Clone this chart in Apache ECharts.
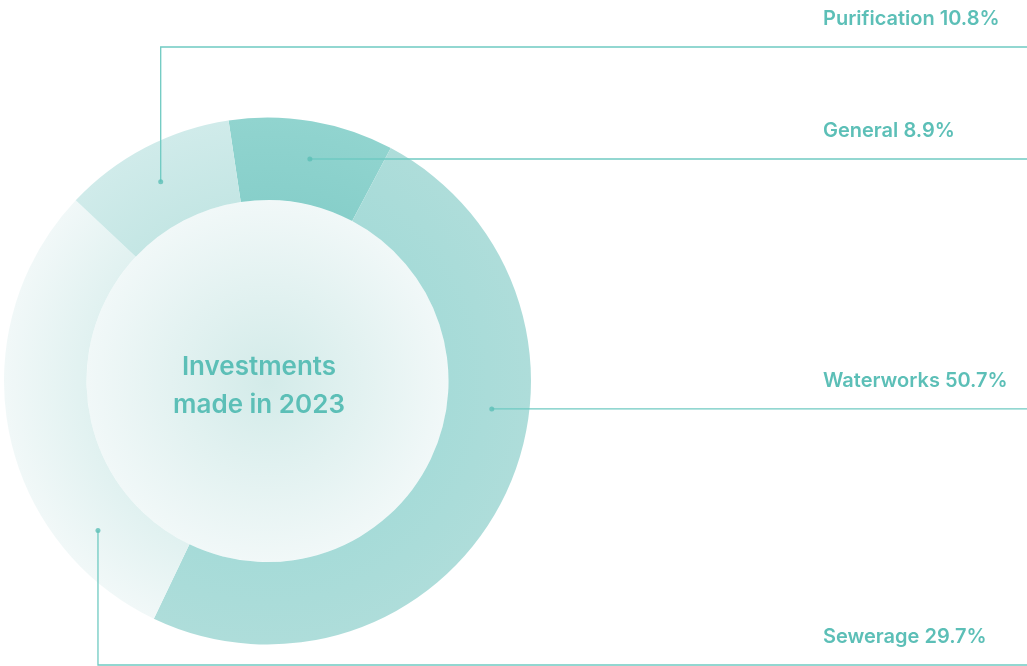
<!DOCTYPE html>
<html>
<head>
<meta charset="utf-8">
<script src="https://cdn.jsdelivr.net/npm/echarts@6/dist/echarts.min.js"></script>
<style>
  html, body { margin: 0; padding: 0; background: #fff; }
  #main { width: 1027px; height: 666px; }
</style>
</head>
<body>
<div id="main"></div>
<script>
// data (clockwise from the top)
const names = ['General', 'Waterworks', 'Sewerage', 'Purification'];
const percents = [8.9, 50.7, 29.7, 10.8];        // as printed in the labels
const sliceShares = [10.1, 49.3, 29.9, 10.6];     // slice sizes as drawn in the picture
const centerTitle = 'Investments\nmade in 2023';

// where each label marker sits on the ring (degrees clockwise from 12 o'clock)
const dotAngles = [10.8, 97.1, 228.6, 331.8];
// y of each leader line
const lineYs = [159, 409, 665, 47];

const cx = 267.5, cy = 381, rIn = 181, rOut = 263.5, rDot = 226;
const teal = '#5cbfb7';
const font = 'Inter';

function ringGrad(inner, outer) {
  return {
    type: 'radial', x: cx, y: cy, r: rOut, global: true,
    colorStops: [{ offset: 0.68, color: inner }, { offset: 1, color: outer }]
  };
}
const fills = [
  ringGrad('#87cfca', '#91d4cf'),
  ringGrad('#a6dbd8', '#aeddda'),
  ringGrad('#e0f1f0', '#f1f8f8'),
  ringGrad('#c4e6e4', '#d0ebea')
];

function dotXY(i) {
  const a = dotAngles[i] * Math.PI / 180;
  return [cx + rDot * Math.sin(a), cy - rDot * Math.cos(a)];
}

let myChart = echarts.init(document.getElementById('main'));
const W = myChart.getWidth();

const ringData = names.map((n, i) => ({ name: n, value: sliceShares[i] }));

let option = {
  animation: false,
  title: {
    text: centerTitle,
    left: 259,
    top: 348,
    textAlign: 'center',
    padding: 0,
    z: 10,
    textStyle: {
      color: teal,
      fontFamily: font,
      fontSize: 26,
      fontWeight: 600,
      lineHeight: 38
    }
  },
  polar: { center: [cx, cy], radius: rOut },
  angleAxis: { min: 0, max: 360, startAngle: 90, clockwise: true, show: false },
  radiusAxis: { min: 0, max: rOut, show: false },
  series: [
    {
      // inner disc
      type: 'pie',
      center: [cx, cy],
      radius: [0, rIn],
      silent: true,
      z: 1,
      data: [{ value: 1, name: 'disc' }],
      itemStyle: {
        color: {
          type: 'radial', x: 0.5, y: 0.5, r: 0.5,
          colorStops: [
            { offset: 0, color: '#d3ebe9' },
            { offset: 1, color: '#f1f8f8' }
          ]
        }
      },
      label: { show: false },
      labelLine: { show: false }
    },
    {
      // the ring
      type: 'pie',
      center: [cx, cy],
      radius: [rIn, rOut],
      startAngle: 98.5,
      clockwise: true,
      silent: true,
      z: 2,
      data: ringData.map((d, i) => Object.assign({ itemStyle: { color: fills[i] } }, d)),
      label: { show: false },
      labelLine: { show: false }
    },
    {
      // transparent copy on top carrying labels and leader lines
      type: 'pie',
      center: [cx, cy],
      radius: [rIn, rOut],
      startAngle: 98.5,
      clockwise: true,
      silent: true,
      z: 4,
      data: ringData,
      itemStyle: { color: 'rgba(0,0,0,0)' },
      label: {
        show: true,
        formatter: p => p.name + ' ' + percents[p.dataIndex] + '%',
        color: teal,
        fontFamily: font,
        fontSize: 20,
        fontWeight: 600,
        width: 200,
        overflow: 'none'
      },
      labelLine: {
        show: true,
        lineStyle: { color: '#6fcac2', width: 1.3 }
      },
      labelLayout: function (params) {
        const i = params.dataIndex;
        const d = dotXY(i);
        const ly = lineYs[i];
        let pts;
        if (Math.abs(d[1] - ly) < 3) {
          pts = [d, [(d[0] + W) / 2, d[1]], [W, d[1]]];
        } else {
          pts = [d, [d[0], ly], [W, ly]];
        }
        return {
          x: 823,
          y: ly - 28,
          align: 'left',
          verticalAlign: 'middle',
          labelLinePoints: pts
        };
      }
    },
    {
      type: 'scatter',
      coordinateSystem: 'polar',
      symbol: 'circle',
      symbolSize: 5,
      silent: true,
      z: 5,
      itemStyle: { color: teal },
      data: dotAngles.map(a => [rDot, a])
    }
  ]
};
myChart.setOption(option);
window.onresize = function () {
  myChart.resize();
};
</script>
</body>
</html>
